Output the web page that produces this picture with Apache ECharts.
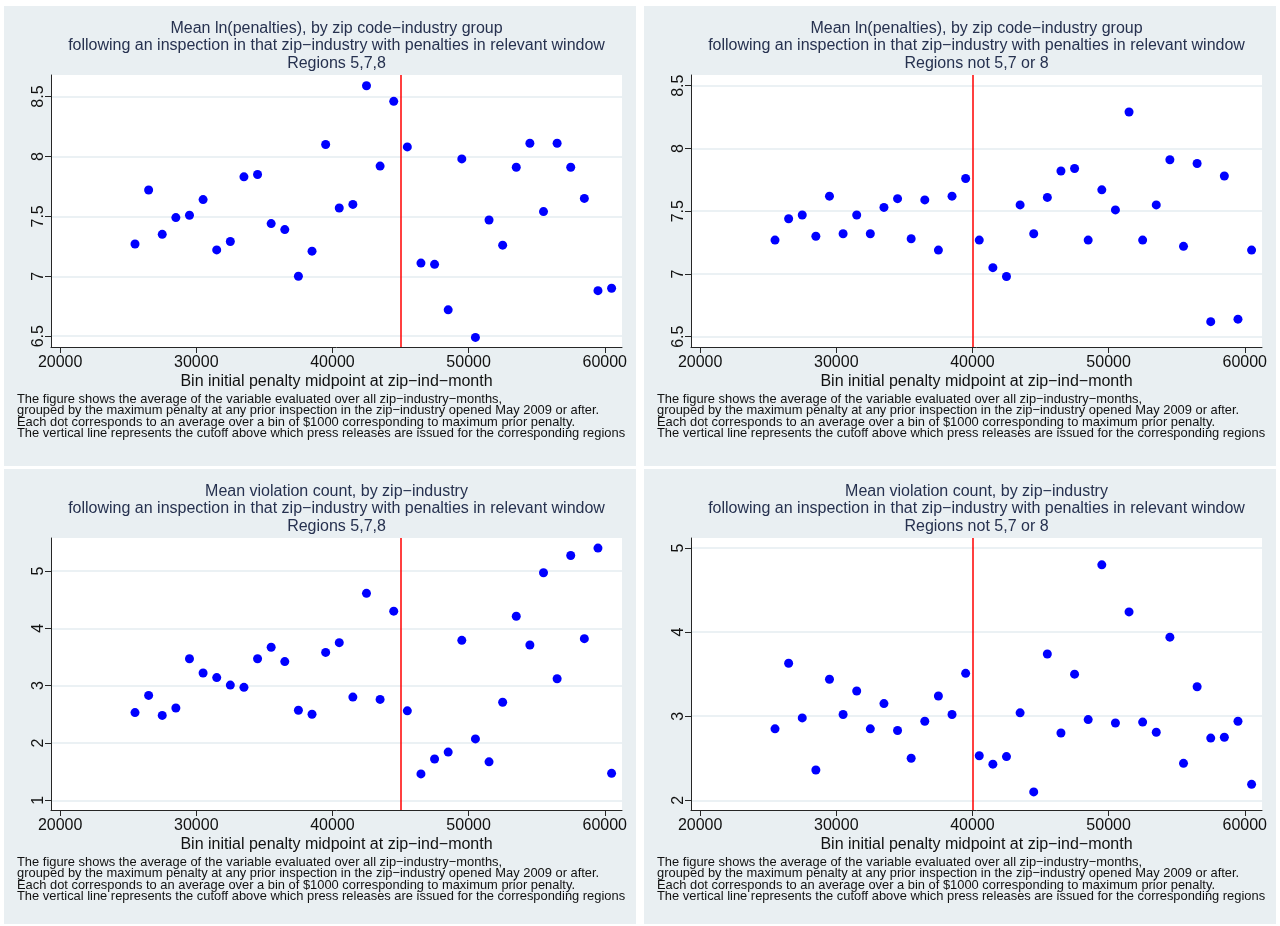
<!DOCTYPE html>
<html>
<head>
<meta charset="utf-8">
<script src="https://cdn.jsdelivr.net/npm/echarts@6.0.0/dist/echarts.min.js"></script>
<style>
  html, body { margin: 0; padding: 0; background: #ffffff; }
  #chart { width: 1280px; height: 926px; }
</style>
</head>
<body>
<div id="chart"></div>
<script>
// Bin midpoints (maximum prior penalty, $1000 bins)
const binMidpoints = [25500, 26500, 27500, 28500, 29500, 30500, 31500, 32500, 33500, 34500,
                      35500, 36500, 37500, 38500, 39500, 40500, 41500, 42500, 43500, 44500,
                      45500, 46500, 47500, 48500, 49500, 50500, 51500, 52500, 53500, 54500,
                      55500, 56500, 57500, 58500, 59500, 60500];

// Mean ln(penalties), regions 5,7,8
const lnPenaltiesR578 = [7.27, 7.72, 7.35, 7.49, 7.51, 7.64, 7.22, 7.29, 7.83, 7.85,
                         7.44, 7.39, 7.00, 7.21, 8.10, 7.57, 7.60, 8.59, 7.92, 8.46,
                         8.08, 7.11, 7.10, 6.72, 7.98, 6.49, 7.47, 7.26, 7.91, 8.11,
                         7.54, 8.11, 7.91, 7.65, 6.88, 6.90];
// Mean ln(penalties), other regions
const lnPenaltiesOther = [7.27, 7.44, 7.47, 7.30, 7.62, 7.32, 7.47, 7.32, 7.53, 7.60,
                          7.28, 7.59, 7.19, 7.62, 7.76, 7.27, 7.05, 6.98, 7.55, 7.32,
                          7.61, 7.82, 7.84, 7.27, 7.67, 7.51, 8.29, 7.27, 7.55, 7.91,
                          7.22, 7.88, 6.62, 7.78, 6.64, 7.19];
// Mean violation count, regions 5,7,8
const violationsR578 = [2.53, 2.83, 2.48, 2.61, 3.47, 3.22, 3.14, 3.01, 2.97, 3.47,
                        3.67, 3.42, 2.57, 2.50, 3.58, 3.75, 2.80, 4.61, 2.76, 4.30,
                        2.56, 1.46, 1.72, 1.84, 3.79, 2.07, 1.67, 2.71, 4.21, 3.71,
                        4.97, 3.12, 5.27, 3.82, 5.40, 1.47];
// Mean violation count, other regions
const violationsOther = [2.85, 3.63, 2.98, 2.36, 3.44, 3.02, 3.30, 2.85, 3.15, 2.83,
                         2.50, 2.94, 3.24, 3.02, 3.51, 2.53, 2.43, 2.52, 3.04, 2.10,
                         3.74, 2.80, 3.50, 2.96, 4.80, 2.92, 4.24, 2.93, 2.81, 3.94,
                         2.44, 3.35, 2.74, 2.75, 2.94, 2.19];

// Press-release cutoffs
const cutoffR578 = 45000;
const cutoffOther = 40000;

// Tick labels
const xTicks = [20000, 30000, 40000, 50000, 60000];
const yTicksLnPen = [6.5, 7, 7.5, 8, 8.5];
const yTicksViolR578 = [1, 2, 3, 4, 5];
const yTicksViolOther = [2, 3, 4, 5];

// Text
const titleLnPen = 'Mean ln(penalties), by zip code\u2212industry group';
const titleViol = 'Mean violation count, by zip\u2212industry';
const subtitle = 'following an inspection in that zip\u2212industry with penalties in relevant window';
const regionsR578 = 'Regions 5,7,8';
const regionsOther = 'Regions not 5,7 or 8';
const xAxisTitle = 'Bin initial penalty midpoint at zip\u2212ind\u2212month';
const noteLines = [
  'The figure shows the average of the variable evaluated over all zip\u2212industry\u2212months,',
  'grouped by the maximum penalty at any prior inspection in the zip\u2212industry opened May 2009 or after.',
  'Each dot corresponds to an average over a bin of $1000 corresponding to maximum prior penalty.',
  'The vertical line represents the cutoff above which press releases are issued for the corresponding regions'
];

const FONT = "'Liberation Sans', Arial, Helvetica, sans-serif";
const TITLE_COLOR = '#26314f';
const PANEL_BG = '#e9eff2';
const GRID_LINE = '#e4ecf0';
const AXIS_COLOR = '#262626';

const panels = [
  { col: 0, row: 0, values: lnPenaltiesR578, yMin: 6.41, yMax: 8.68, yTicks: yTicksLnPen, cutoff: cutoffR578, title: titleLnPen, region: regionsR578 },
  { col: 1, row: 0, values: lnPenaltiesOther, yMin: 6.418, yMax: 8.585, yTicks: yTicksLnPen, cutoff: cutoffOther, title: titleLnPen, region: regionsOther },
  { col: 0, row: 1, values: violationsR578, yMin: 0.83, yMax: 5.576, yTicks: yTicksViolR578, cutoff: cutoffR578, title: titleViol, region: regionsR578 },
  { col: 1, row: 1, values: violationsOther, yMin: 1.885, yMax: 5.119, yTicks: yTicksViolOther, cutoff: cutoffOther, title: titleViol, region: regionsOther }
];

const grids = [], xAxes = [], yAxes = [], series = [], graphics = [];

panels.forEach((p, i) => {
  const dx = p.col * 640;
  const dy = p.row * 463;
  const plotLeft = 51 + dx, plotTop = 75 + dy, plotW = 571, plotH = 272;
  const cx = plotLeft + plotW / 2;

  // panel background
  graphics.push({
    type: 'rect', z: -10, silent: true,
    shape: { x: 4 + dx, y: 6 + dy, width: 632, height: p.row ? 455 : 460 },
    style: { fill: PANEL_BG }
  });

  // three title lines
  [p.title, subtitle, p.region].forEach((t, k) => {
    graphics.push({
      type: 'text', z: 10, silent: true,
      x: cx, y: 28.5 + k * 17.3 + dy,
      style: { text: t, fill: TITLE_COLOR, font: '16px ' + FONT, align: 'center', verticalAlign: 'middle' }
    });
  });

  // note
  noteLines.forEach((t, k) => {
    graphics.push({
      type: 'text', z: 10, silent: true,
      x: 17 + dx, y: 399.5 + k * 11.3 + dy,
      style: { text: t, fill: '#111111', font: '12.9px ' + FONT, align: 'left', verticalAlign: 'middle' }
    });
  });

  grids.push({
    left: plotLeft, top: plotTop, width: plotW, height: plotH,
    show: true, backgroundColor: '#ffffff', borderWidth: 0, containLabel: false
  });

  xAxes.push({
    gridIndex: i, type: 'value', min: 19330, max: 61265,
    name: xAxisTitle, nameLocation: 'middle', nameGap: 27,
    nameTextStyle: { color: '#111111', fontSize: 16, fontFamily: FONT },
    axisLine: { show: true, onZero: false, lineStyle: { color: AXIS_COLOR, width: 1 } },
    axisTick: { show: true, inside: false, length: 6, customValues: xTicks, lineStyle: { color: AXIS_COLOR, width: 1 } },
    axisLabel: { show: true, customValues: xTicks, margin: 8, color: '#111111', fontSize: 16, fontFamily: FONT,
                 formatter: v => String(v) },
    splitLine: { show: false }
  });

  yAxes.push({
    gridIndex: i, type: 'value', min: p.yMin, max: p.yMax,
    axisLine: { show: true, onZero: false, lineStyle: { color: AXIS_COLOR, width: 1 } },
    axisTick: { show: true, inside: false, length: 6, customValues: p.yTicks, lineStyle: { color: AXIS_COLOR, width: 1 } },
    axisLabel: { show: true, customValues: p.yTicks, rotate: 90, margin: 4, color: '#111111', fontSize: 16, fontFamily: FONT,
                 formatter: v => String(v) },
    splitLine: { show: true, lineStyle: { color: GRID_LINE, width: 1.5 } }
  });

  series.push({
    type: 'scatter', xAxisIndex: i, yAxisIndex: i,
    data: binMidpoints.map((x, k) => [x, p.values[k]]),
    symbol: 'circle', symbolSize: 9,
    itemStyle: { color: '#0000ff', borderWidth: 0, opacity: 1 },
    silent: true,
    markLine: {
      silent: true, symbol: ['none', 'none'], label: { show: false },
      lineStyle: { color: '#ff0000', width: 1.5, type: 'solid' },
      emphasis: { disabled: true },
      animation: false,
      data: [{ xAxis: p.cutoff }]
    }
  });
});

const chart = echarts.init(document.getElementById('chart'), null, { renderer: 'canvas' });
chart.setOption({
  backgroundColor: '#ffffff',
  animation: false,
  textStyle: { fontFamily: FONT },
  grid: grids,
  xAxis: xAxes,
  yAxis: yAxes,
  series: series,
  graphic: { elements: graphics }
});
</script>
</body>
</html>
